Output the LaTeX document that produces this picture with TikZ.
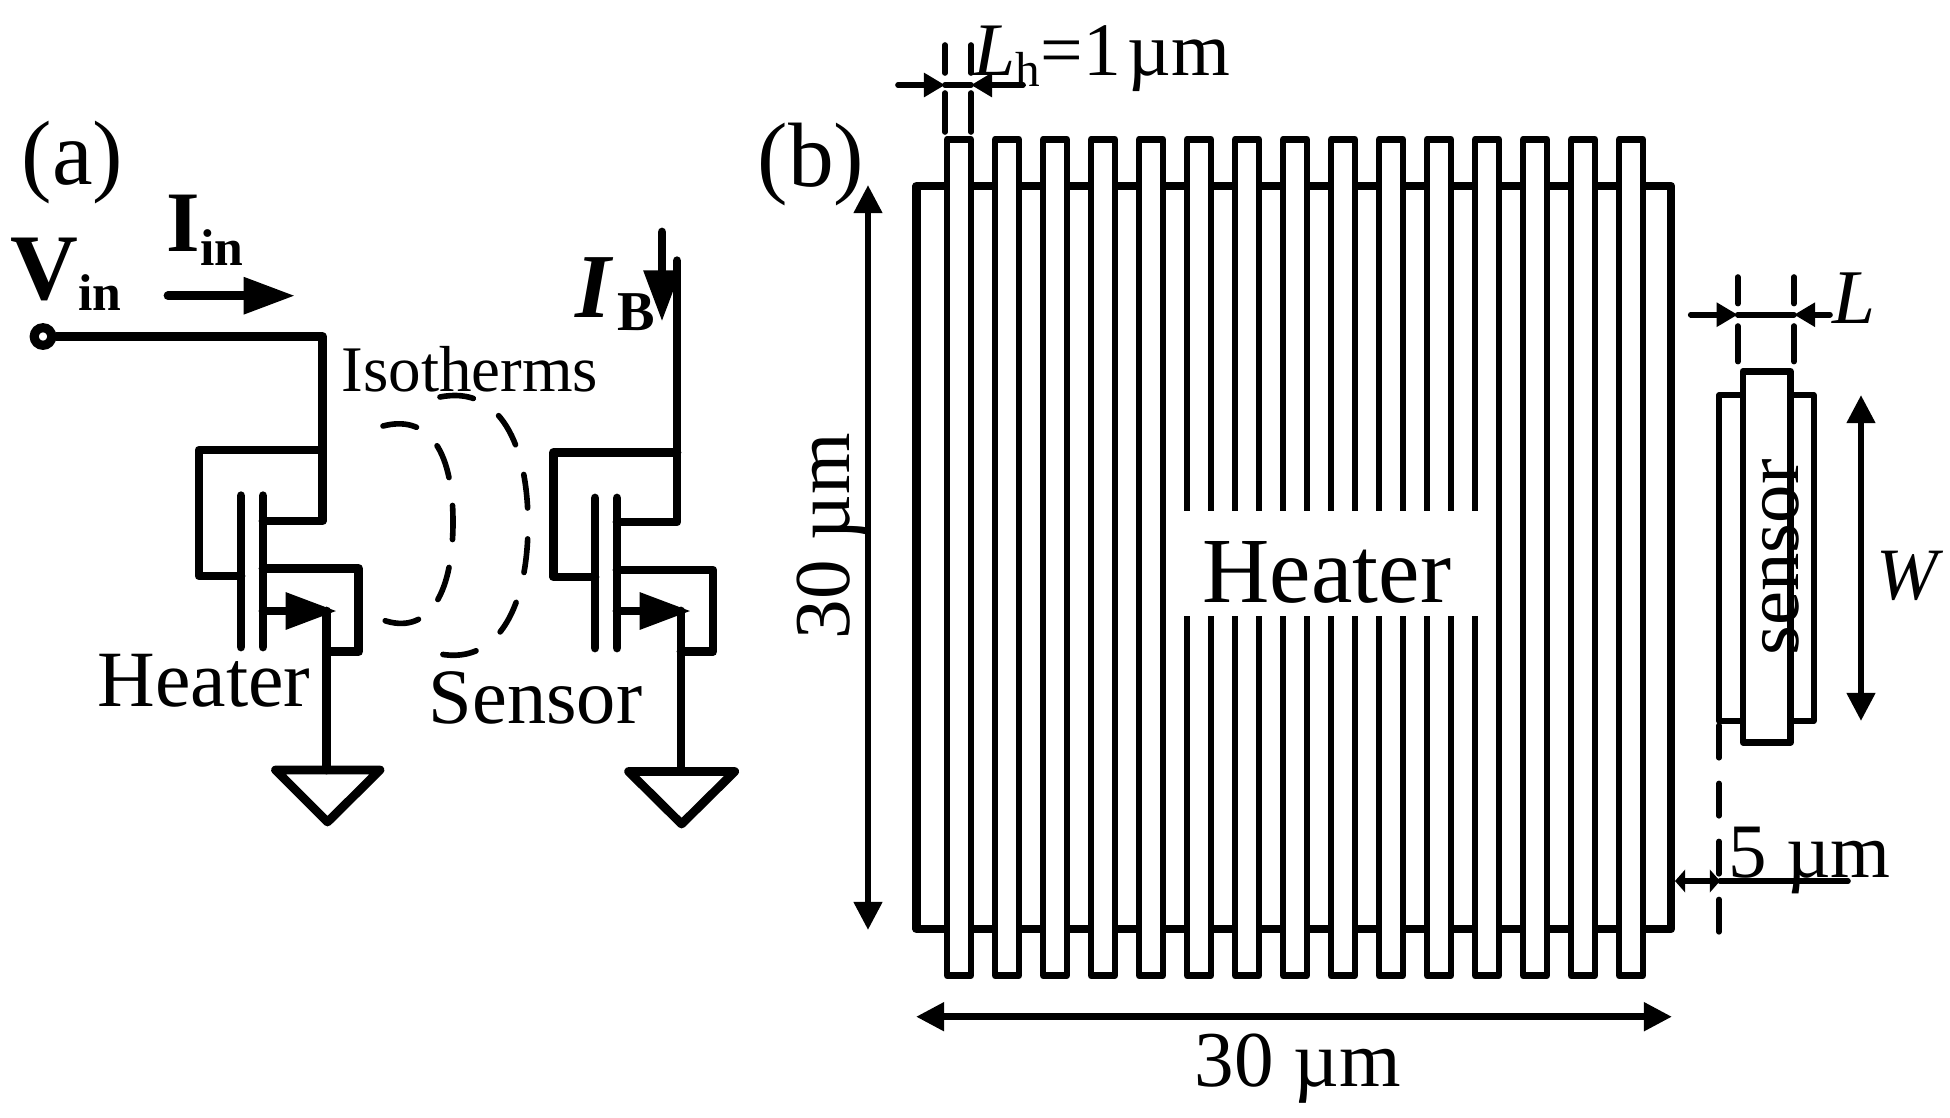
\documentclass[tikz,border=0pt]{standalone}
\usepackage{fontspec}
\setmainfont{Liberation Serif}
\usetikzlibrary{arrows.meta}
\newcommand{\fs}[1]{\fontsize{#1}{#1}\selectfont}
\tikzset{>=Triangle}
\tikzset{
	wire/.style={line width=2.5pt, line join=round, line cap=round},
	isoline/.style={line width=1.6pt, line cap=round},
	dimline/.style={line width=1.6pt, line cap=round},
	thinfinger/.style={line width=1.85pt, line join=round, fill=white},
	lbl/.style={inner sep=0pt, anchor=base west},
	bighead/.style={-{Triangle[length=14.6pt,width=10pt]}},
	smallhead/.style={-{Triangle[length=6pt,width=6.6pt]}},
	tinyhead/.style={{Triangle[length=2.9pt,width=6.4pt]}-{Triangle[length=2.9pt,width=6.4pt]}},
	spanhead/.style={{Triangle[length=8pt,width=7.8pt]}-{Triangle[length=8pt,width=7.8pt]}}
}
\begin{document}
\begin{tikzpicture}[x=0.01cm, y=-0.01cm]
	\useasboundingbox (0,0) rectangle (1950,1117);
	\node[lbl] (labela) at (21,184) {\fs{26}(a)};
	\node[lbl] (labelb) at (757,186) {\fs{26}(b)};
	\node[lbl] (vin) at (10,299) {\fs{26.7}\textbf{V}\raisebox{-3.4pt}{\fs{14.7}\textbf{in}}};
	\node[lbl] (iin) at (166,251) {\fs{24.5}\textbf{I}\raisebox{-4.1pt}{\fs{14.7}\textbf{in}}};
	\node[lbl] (ib) at (575,317) {\fs{26}\textbf{\textit{I}}\hspace{1pt}\raisebox{-3.8pt}{\fs{16}\textbf{B}}};
	\node[lbl] (isotherms) at (341,391.6) {\fs{18.5}Isotherms};
	\node[lbl] (heatera) at (97,706.7) {\fs{22.7}Heater};
	\node[lbl] (sensora) at (428,723.5) {\fs{22.3}Sensor};

	% heater transistor
	\node[circle, draw, line width=2.6pt, inner sep=0pt, minimum size=5pt] (vinpin) at (43,336.5) {};
	\draw[wire] (vinpin.east) -- (322.5,336.5) -- (322.5,521) -- (263,521);
	\draw[wire] (322.5,450) -- (199,450) -- (199,576) -- (241,576);
	\draw[wire] (241,495.7) -- (241,647);
	\draw[wire] (263,495.7) -- (263,647);
	\draw[wire] (263,568.6) -- (358.7,568.6) -- (358.7,651.6) -- (326.5,651.6);
	\draw[wire] (326.5,611) -- (326.5,770);
	\draw[wire, bighead] (263,611) -- (337,611);
	\draw[wire] (275.5,770) -- (380,770) -- (327.5,822) -- cycle;

	% sensor transistor
	\draw[wire] (677,260.7) -- (677,522) -- (617,522);
	\draw[wire] (677,452.5) -- (553.5,452.5) -- (553.5,577) -- (595,577);
	\draw[wire] (595,498) -- (595,648);
	\draw[wire] (617,498) -- (617,648);
	\draw[wire] (617,570) -- (713,570) -- (713,651.6) -- (681,651.6);
	\draw[wire] (681,611) -- (681,771.5);
	\draw[wire, bighead] (617,611) -- (691,611);
	\draw[wire] (628.6,771.5) -- (734.7,771.5) -- (681.6,824) -- cycle;

	\draw[wire, bighead] (168,295.7) -- (295,295.7);
	\draw[wire, bighead] (662,232) -- (662,321.6);

	\draw[isoline, dash pattern=on 9.7pt off 8pt] (383,426) .. controls (425,415) and (453,445) .. (453,522) .. controls (453,600) and (425,635) .. (383,620);
	\draw[isoline, dash pattern=on 9.6pt off 8.8pt] (440,397) .. controls (500,385) and (528,445) .. (528,524) .. controls (528,603) and (500,665) .. (440,654);

	% heater layout
	\draw[line width=2.5pt, line join=round] (916.5,186) rectangle (1671,929);
	\foreach \i in {0,...,14}
		\draw[thinfinger] ({947+48*\i},139.5) rectangle ({971+48*\i},975.5);
	\node[fill=white, inner sep=0pt, minimum width=87pt, minimum height=30pt] (heaterbox) at (1329,563.7) {};
	\node[lbl] (heaterb) at (1202,602) {\fs{26.5}Heater};

	\foreach \x in {945,971} {
		\draw[dimline] (\x,45) -- (\x,73);
		\draw[dimline] (\x,93) -- (\x,132);
	}
	\draw[dimline, smallhead] (898,85) -- (945,85);
	\draw[dimline, smallhead] (1023,85) -- (971,85);
	\draw[dimline] (945,85) -- (971,85);
	\node[lbl] (lh) at (973,75) {\fs{21.5}\textit{L}\raisebox{-3.4pt}{\fs{14}h}=1\hspace{2pt}µm};

	\draw[line width=1.8pt, spanhead] (868,185) -- (868,930);
	\node[lbl, rotate=90] (hgt) at (849,640) {\fs{22.5}30 µm};
	\draw[line width=1.9pt, spanhead] (916,1016.7) -- (1672,1016.7);
	\node[lbl] (wdt) at (1194,1086) {\fs{22.5}30 µm};

	% sensor layout
	\draw[line width=1.6pt, line join=round] (1719,395) rectangle (1813.7,721);
	\draw[line width=1.9pt, line join=round, fill=white] (1743,371.4) rectangle (1790.5,742.4);
	\node[lbl, rotate=90] (sensorb) at (1798,656) {\fs{21.8}sensor};

	\foreach \x in {1737.7,1794} {
		\draw[dimline] (\x,277) -- (\x,303.6);
		\draw[dimline] (\x,326) -- (\x,361.6);
	}
	\draw[dimline, smallhead] (1690.7,314.7) -- (1737.7,314.7);
	\draw[dimline, smallhead] (1830,314.7) -- (1794,314.7);
	\draw[dimline] (1737.7,314.7) -- (1794,314.7);
	\node[lbl] (lsens) at (1832,323.7) {\fs{22}\textit{L}};

	\draw[line width=1.8pt, spanhead] (1861,395) -- (1861,721);
	\node[lbl] (wsens) at (1876,599) {\fs{21}\textit{W}};

	\draw[dimline, dash pattern=on 9.2pt off 7.3pt] (1719,725.4) -- (1719,940);
	\draw[dimline, tinyhead] (1675,881) -- (1720,881);
	\draw[dimline] (1720,881) -- (1848,881);
	\node[lbl] (gap) at (1728,877) {\fs{21.9}5 µm};
\end{tikzpicture}
\end{document}
